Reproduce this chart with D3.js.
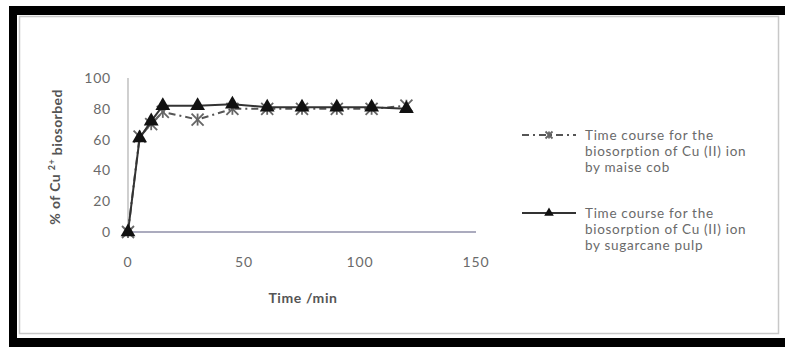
<!DOCTYPE html>
<html lang="en">
<head>
  <meta charset="UTF-8">
  <title>Biosorption time course</title>
  <script src="https://cdn.jsdelivr.net/npm/d3@7"></script>
  <style>
    body { margin: 0; background: #fff; }
    text { font-family: Lato, "Open Sans", sans-serif; }
  </style>
</head>
<body>
  <svg width="785" height="347"></svg>
<script>
  // data
  const times = [0, 5, 10, 15, 30, 45, 60, 75, 90, 105, 120];
  const maizeCob = [0, 62, 70, 78, 73, 80, 80, 80, 80, 80, 82];
  const sugarcanePulp = [0, 61, 72, 82, 82, 83, 81, 81, 81, 81, 80];
  const xTicks = [0, 50, 100, 150];
  const yTicks = [0, 20, 40, 60, 80, 100];
  const legendLabels = [
    ["Time course for the", "biosorption of Cu (II) ion", "by maise cob"],
    ["Time course for the", "biosorption of Cu (II) ion", "by sugarcane pulp"]
  ];

  const svg = d3.select("svg");

  // scanned frame: thick black border, paper inside
  svg.append("rect").attr("x", 9).attr("y", 6).attr("width", 776).attr("height", 341).attr("fill", "#000");
  svg.append("rect").attr("x", 17).attr("y", 15).attr("width", 768).attr("height", 323).attr("fill", "#fff");
  svg.append("rect").attr("x", 19.5).attr("y", 16.5).attr("width", 759).attr("height", 317)
    .attr("fill", "none").attr("stroke", "#c8c8c8").attr("stroke-width", 1.5);

  const x = d3.scaleLinear().domain([0, 150]).range([128, 476]);
  const y = d3.scaleLinear().domain([0, 100]).range([232, 78]);

  const g = svg.append("g");

  // axes lines (no tick marks in the original)
  g.append("line").attr("x1", x(0)).attr("x2", x(0)).attr("y1", y(100)).attr("y2", y(0))
    .attr("stroke", "#b0b0b0").attr("stroke-width", 1.2);
  g.append("line").attr("x1", x(0)).attr("x2", x(150)).attr("y1", y(0)).attr("y2", y(0))
    .attr("stroke", "#8f8fa8").attr("stroke-width", 1.5);

  g.selectAll(".ytick").data(yTicks).join("text")
    .attr("class", "ytick")
    .attr("x", 111).attr("y", d => y(d)).attr("dy", "0.35em")
    .attr("text-anchor", "end").attr("font-size", 14).attr("letter-spacing", 0.8).attr("fill", "#6a6a6a")
    .text(d => d);

  g.selectAll(".xtick").data(xTicks).join("text")
    .attr("class", "xtick")
    .attr("x", d => x(d)).attr("y", 262).attr("dy", "0.35em")
    .attr("text-anchor", "middle").attr("font-size", 14).attr("letter-spacing", 0.8).attr("fill", "#6a6a6a")
    .text(d => d);

  // axis titles
  g.append("text").attr("x", 303).attr("y", 298).attr("dy", "0.35em")
    .attr("text-anchor", "middle").attr("font-size", 14).attr("letter-spacing", 0.6)
    .attr("font-weight", 700).attr("fill", "#555")
    .text("Time /min");

  const yt = g.append("text")
    .attr("transform", "translate(55,157) rotate(-90)")
    .attr("text-anchor", "middle").attr("font-size", 14).attr("letter-spacing", 0.4)
    .attr("font-weight", 700).attr("fill", "#555")
    .attr("dy", "0.35em");
  yt.append("tspan").text("% of Cu ");
  yt.append("tspan").attr("font-size", 9).attr("dy", "-0.5em").text("2+");
  yt.append("tspan").attr("dy", "0.5em").text(" biosorbed");

  const line = d3.line().x(d => x(d[0])).y(d => y(d[1]));
  const maizePts = times.map((t, i) => [t, maizeCob[i]]);
  const canePts = times.map((t, i) => [t, sugarcanePulp[i]]);

  const triangle = d3.symbol().type(d3.symbolTriangle).size(95);

  function star(sel, cx, cy, r) {
    const s = sel.append("g").attr("transform", `translate(${cx},${cy})`)
      .attr("stroke", "#666").attr("stroke-width", 1.8);
    s.append("line").attr("x1", -r).attr("y1", -r).attr("x2", r).attr("y2", r);
    s.append("line").attr("x1", -r).attr("y1", r).attr("x2", r).attr("y2", -r);
    s.append("line").attr("x1", 0).attr("y1", -r).attr("x2", 0).attr("y2", r);
    return s;
  }

  // maize cob: dash-dot with star markers
  g.append("path").datum(maizePts).attr("d", line)
    .attr("fill", "none").attr("stroke", "#555").attr("stroke-width", 2)
    .attr("stroke-dasharray", "7,4,2,4");
  maizePts.forEach(p => star(g, x(p[0]), y(p[1]), 6));

  // sugarcane pulp: solid with triangle markers
  g.append("path").datum(canePts).attr("d", line)
    .attr("fill", "none").attr("stroke", "#333").attr("stroke-width", 2);
  g.selectAll(".tri").data(canePts).join("path")
    .attr("class", "tri")
    .attr("transform", d => `translate(${x(d[0])},${y(d[1])})`)
    .attr("d", triangle).attr("fill", "#111");

  // legend
  const legY = [135, 213];
  const lg = svg.append("g");
  lg.append("line").attr("x1", 522).attr("x2", 576).attr("y1", legY[0]).attr("y2", legY[0])
    .attr("stroke", "#555").attr("stroke-width", 2).attr("stroke-dasharray", "7,4,2,4");
  star(lg, 549, legY[0], 3.5);
  lg.append("line").attr("x1", 522).attr("x2", 576).attr("y1", legY[1]).attr("y2", legY[1])
    .attr("stroke", "#333").attr("stroke-width", 2);
  lg.append("path").attr("transform", `translate(549,${legY[1]})`)
    .attr("d", d3.symbol().type(d3.symbolTriangle).size(40)).attr("fill", "#111");

  legendLabels.forEach((lines, k) => {
    lines.forEach((txt, i) => {
      lg.append("text").attr("x", 585).attr("y", legY[k] + i * 16).attr("dy", "0.35em")
        .attr("font-size", 13.5).attr("letter-spacing", 0.7).attr("fill", "#6a6a6a")
        .text(txt);
    });
  });
</script>
</body>
</html>
